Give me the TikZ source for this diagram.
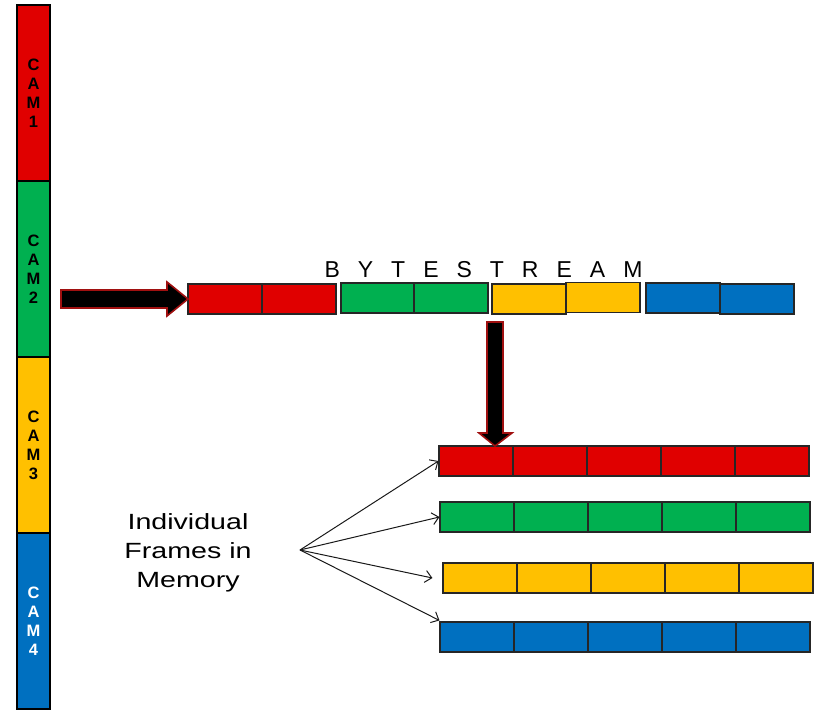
\documentclass[tikz,border=0pt]{standalone}
\usepackage{fontspec}
\setmainfont{Liberation Sans}
\usetikzlibrary{arrows.meta}
\definecolor{camred}{HTML}{E00000}
\definecolor{camgreen}{HTML}{00B050}
\definecolor{camyellow}{HTML}{FFC000}
\definecolor{camblue}{HTML}{0070C0}
\definecolor{arrowrim}{HTML}{A01010}
\begin{document}
\begin{tikzpicture}[x=1pt,y=-1pt,
    seg/.style={draw=black,line width=2pt,minimum width=33pt,minimum height=176pt,
      inner sep=0pt,align=center,font=\fontsize{16.5}{19}\selectfont\bfseries},
    cell/.style={draw=black!85,line width=1.1pt,minimum width=74pt,minimum height=30pt,inner sep=0pt},
    bigarrow/.style={fill=black,draw=arrowrim,line width=1.6pt,line join=miter}]
  \useasboundingbox (0,0) rectangle (815,712);
  % camera strip
  \draw
    (33.5,93) node[seg,fill=camred] (cam1){C\\A\\M\\1}
    (33.5,269) node[seg,fill=camgreen] (cam2){C\\A\\M\\2}
    (33.5,445) node[seg,fill=camyellow] (cam3){C\\A\\M\\3}
    (33.5,621) node[seg,fill=camblue,text=white] (cam4){C\\A\\M\\4};
  % byte stream
  \draw
    (225,299) node[cell,fill=camred] (s1){}
    (299,299) node[cell,fill=camred] (s2){}
    (378,298) node[cell,fill=camgreen] (s3){}
    (451,298) node[cell,fill=camgreen] (s4){}
    (529,299) node[cell,fill=camyellow] (s5){}
    (603,297.5) node[cell,fill=camyellow] (s6){}
    (683,298) node[cell,fill=camblue] (s7){}
    (757,299) node[cell,fill=camblue] (s8){};
  \node[anchor=base,font=\fontsize{23}{23}\selectfont] (bs) at (483.5,277)
    {\spaceskip=18pt B Y T E S T R E A M};
  % frames
  \draw
    (476,461) node[cell,fill=camred] (r1){}
    (550,461) node[cell,fill=camred] (r2){}
    (624,461) node[cell,fill=camred] (r3){}
    (698,461) node[cell,fill=camred] (r4){}
    (772,461) node[cell,fill=camred] (r5){}
    (477,517) node[cell,fill=camgreen] (g1){}
    (551,517) node[cell,fill=camgreen] (g2){}
    (625,517) node[cell,fill=camgreen] (g3){}
    (699,517) node[cell,fill=camgreen] (g4){}
    (773,517) node[cell,fill=camgreen] (g5){}
    (480,578) node[cell,fill=camyellow] (y1){}
    (554,578) node[cell,fill=camyellow] (y2){}
    (628,578) node[cell,fill=camyellow] (y3){}
    (702,578) node[cell,fill=camyellow] (y4){}
    (776,578) node[cell,fill=camyellow] (y5){}
    (477,637) node[cell,fill=camblue] (b1){}
    (551,637) node[cell,fill=camblue] (b2){}
    (625,637) node[cell,fill=camblue] (b3){}
    (699,637) node[cell,fill=camblue] (b4){}
    (773,637) node[cell,fill=camblue] (b5){};
  \node[align=center,xscale=1.3,font=\fontsize{22}{29}\selectfont] (mem) at (188,553)
    {Individual\\Frames in\\Memory};
  % block arrows
  \draw[bigarrow] (61,290) -- (167,290) -- (167,282) -- (188,299) -- (167,316)
    -- (167,308) -- (61,308) -- cycle;
  \draw[bigarrow] (487,322) -- (503,322) -- (503,433) -- (512,433) -- (495,446)
    -- (479,433) -- (487,433) -- cycle;
  \coordinate (fan) at (300,550);
  \begin{scope}[-{Straight Barb[length=6.5pt,width=12pt]},line width=1pt,black!90]
    \draw (fan) to (r1.west);
    \draw (fan) to (g1.west);
    \draw (fan) to ([xshift=-10pt]y1.west);
    \draw (fan) to ([yshift=1pt]b1.north west);
  \end{scope}
\end{tikzpicture}
\end{document}
